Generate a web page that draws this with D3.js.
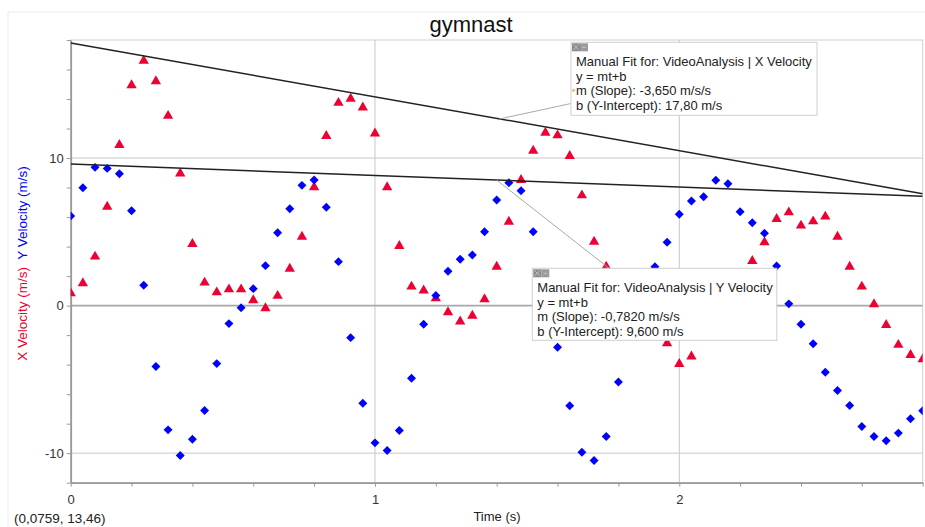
<!DOCTYPE html>
<html>
<head>
<meta charset="utf-8">
<script src="https://d3js.org/d3.v7.min.js"></script>
<style>
    body { margin: 0; background: #fff; }
    text { font-family: "Liberation Sans", Arial, sans-serif; }
</style>
</head>
<body>
<script type="text/javascript">
    // sample times (s) and the two velocity series
    const time = [0, 0.04, 0.08, 0.12, 0.16, 0.2, 0.24, 0.28, 0.32, 0.36,
        0.4, 0.44, 0.48, 0.52, 0.56, 0.6, 0.64, 0.68, 0.72, 0.76,
        0.8, 0.84, 0.88, 0.92, 0.96, 1.0, 1.04, 1.08, 1.12, 1.16,
        1.2, 1.24, 1.28, 1.32, 1.36, 1.4, 1.44, 1.48, 1.52, 1.56,
        1.6, 1.64, 1.68, 1.72, 1.76, 1.8, 1.84, 1.88, 1.92, 1.96,
        2.0, 2.04, 2.08, 2.12, 2.16, 2.2, 2.24, 2.28, 2.32, 2.36,
        2.4, 2.44, 2.48, 2.52, 2.56, 2.6, 2.64, 2.68, 2.72, 2.76, 2.8];

    const xVelocity = [0.84, 1.52, 3.32, 6.7, 10.88, 14.94, 16.6, 15.2, 12.86, 8.96,
        4.18, 1.56, 0.9, 1.1, 1.1, 0.36, -0.18, 0.66, 2.5, 4.67,
        8.02, 11.49, 13.74, 14.02, 13.43, 11.67, 8.02, 4.04, 1.29, 1.02,
        0.5, -0.45, -1.08, -0.68, 0.43, 2.64, 5.69, 8.51, 10.49, 11.71,
        11.54, 10.14, 7.47, 4.33, 2.64, 1.4, 0.1, -1.0, -1.9, -2.55,
        -3.95, -3.45, -2.0, -0.7, 0.7, 1.9, 3.03, 4.29, 5.87, 6.32,
        5.42, 5.71, 6.03, 4.67, 2.64, 1.29, 0.09, -1.31, -2.66, -3.34, -3.63];

    const yVelocity = [6.07, 7.99, 9.37, 9.3, 8.94, 6.43, 1.38, -4.13, -8.42, -10.16,
        -9.05, -7.11, -3.93, -1.22, -0.14, 1.15, 2.71, 4.94, 6.57, 8.15,
        8.51, 6.66, 2.98, -2.17, -6.61, -9.3, -9.82, -8.46, -4.92, -1.26,
        0.68, 2.33, 3.14, 3.43, 5.01, 7.16, 8.33, 7.79, 5.01, 1.3,
        -2.82, -6.79, -9.93, -10.49, -8.87, -5.17, -1.8, 0.6, 2.64, 4.29,
        6.19, 7.09, 7.38, 8.49, 8.26, 6.36, 5.62, 4.9, 2.69, 0.12,
        -1.26, -2.59, -4.51, -5.75, -6.77, -8.19, -8.87, -9.16, -8.64, -7.67, -7.13];

    // manual fits: [slope, intercept]
    const xFit = [-3.650, 17.80];
    const yFit = [-0.7820, 9.600];

    const xMajor = [0, 1, 2];
    const yMajor = [-10, 0, 10];
    const xMinor = [0, 0.2, 0.4, 0.6, 0.8, 1, 1.2, 1.4, 1.6, 1.8, 2, 2.2, 2.4, 2.6, 2.8];
    const yMinor = [-12, -10, -8, -6, -4, -2, 0, 2, 4, 6, 8, 10, 12, 14, 16, 18];

    const xFitText = ["Manual Fit for: VideoAnalysis | X Velocity", "y = mt+b",
        "m (Slope): -3,650 m/s/s", "b (Y-Intercept): 17,80 m/s"];
    const yFitText = ["Manual Fit for: VideoAnalysis | Y Velocity", "y = mt+b",
        "m (Slope): -0,7820 m/s/s", "b (Y-Intercept): 9,600 m/s"];

    const red = "#ee0033";
    const blue = "#0000ff";

    let W = 925, H = 527;
    let pLeft = 70.7, pRight = 922.7, pTop = 40, pBottom = 482.7;

    let svg = d3.select("body").append("svg").attr("width", W).attr("height", H);

    let x = d3.scaleLinear().domain([0, 2.8]).range([pLeft, pRight]);
    let y = d3.scaleLinear().domain([-12, 18]).range([pBottom, pTop]);

    // outer frame of the graph window
    svg.append("rect").attr("x", 8).attr("y", 12).attr("width", 940).attr("height", 540)
        .attr("fill", "none").attr("stroke", "#ececec");

    svg.append("defs").append("clipPath").attr("id", "plotclip")
        .append("rect").attr("x", pLeft).attr("y", pTop)
        .attr("width", pRight - pLeft).attr("height", pBottom - pTop);

    // plot border
    svg.append("rect").attr("x", pLeft).attr("y", pTop)
        .attr("width", pRight - pLeft).attr("height", pBottom - pTop)
        .attr("fill", "none").attr("stroke", "#d0d0d0");

    // grid lines at the major ticks
    svg.selectAll(".vgrid").data(xMajor.filter(d => d > 0)).enter().append("line")
        .attr("x1", d => x(d)).attr("x2", d => x(d))
        .attr("y1", pTop).attr("y2", pBottom)
        .attr("stroke", "#c8c8c8");
    svg.selectAll(".hgrid").data(yMajor).enter().append("line")
        .attr("x1", pLeft).attr("x2", pRight)
        .attr("y1", d => y(d)).attr("y2", d => y(d))
        .attr("stroke", d => d === 0 ? "#a8a8a8" : "#c8c8c8")
        .attr("stroke-width", d => d === 0 ? 1.8 : 1);

    // axes
    let yAxis = svg.append("g").attr("transform", `translate(${pLeft},0)`)
        .call(d3.axisLeft(y).tickValues(yMinor).tickSize(4).tickSizeOuter(0).tickPadding(3)
            .tickFormat(d => yMajor.includes(d) ? d : ""));
    let xAxis = svg.append("g").attr("transform", `translate(0,${pBottom})`)
        .call(d3.axisBottom(x).tickValues(xMinor).tickSize(4).tickSizeOuter(0).tickPadding(8)
            .tickFormat(d => xMajor.includes(d) ? d : ""));
    [xAxis, yAxis].forEach(a => {
        a.select(".domain").attr("stroke", "#9a9a9a").attr("stroke-width", 1.8);
        a.selectAll(".tick line").attr("stroke", "#9a9a9a");
        a.selectAll(".tick text").attr("fill", "#333").style("font-size", "13px")
            .style("font-family", "'Liberation Sans', Arial, sans-serif");
    });

    // data points
    let pts = svg.append("g").attr("clip-path", "url(#plotclip)");
    pts.selectAll(".xv").data(time).enter().append("path")
        .attr("d", d3.symbol().type(d3.symbolTriangle).size(46))
        .attr("transform", (d, i) => `translate(${x(d)},${y(xVelocity[i])})`)
        .attr("fill", red);
    pts.selectAll(".yv").data(time).enter().append("path")
        .attr("d", d3.symbol().type(d3.symbolSquare).size(40))
        .attr("transform", (d, i) => `translate(${x(d)},${y(yVelocity[i])}) rotate(45)`)
        .attr("fill", blue);

    // fit lines
    [xFit, yFit].forEach(f => {
        pts.append("line")
            .attr("x1", x(0)).attr("y1", y(f[1]))
            .attr("x2", x(2.8)).attr("y2", y(f[0] * 2.8 + f[1]))
            .attr("stroke", "#222").attr("stroke-width", 1.5);
    });

    // annotation boxes
    function fitBox(lines, bx, by, bw, bh, anchorT, fit, tx, ty) {
        svg.append("line")
            .attr("x1", x(anchorT)).attr("y1", y(fit[0] * anchorT + fit[1]))
            .attr("x2", tx).attr("y2", ty)
            .attr("stroke", "#aaa");
        let g = svg.append("g").attr("transform", `translate(${bx},${by})`);
        g.append("rect").attr("width", bw).attr("height", bh)
            .attr("fill", "#fff").attr("stroke", "#cfcfcf");
        g.append("rect").attr("x", 1).attr("y", 1).attr("width", 8).attr("height", 8).attr("fill", "#8c8c8c");
        g.append("rect").attr("x", 9).attr("y", 1).attr("width", 8).attr("height", 8).attr("fill", "#9a9a9a");
        g.append("path").attr("d", "M2.5,2.5L7.5,7.5M7.5,2.5L2.5,7.5M11,5H15")
            .attr("stroke", "#c4c4c4").attr("stroke-width", 1);
        g.selectAll("text").data(lines).enter().append("text")
            .attr("x", 5).attr("y", (d, i) => 24 + i * 14.5)
            .attr("fill", "#222").style("font-size", "13px")
            .text(d => d);
        return g;
    }

    let boxX = fitBox(xFitText, 571, 42.3, 246, 73, 1.41, xFit, 571, 103.5);
    boxX.append("circle").attr("cx", 2.6).attr("cy", 48).attr("r", 1.6).attr("fill", "#f2c46a");
    fitBox(yFitText, 532.3, 268.3, 244.5, 72, 1.40, yFit, 609, 268.3);

    // titles
    svg.append("text").attr("x", 471).attr("y", 32).attr("text-anchor", "middle")
        .style("font-size", "22px").attr("fill", "#111").text("gymnast");

    svg.append("text").attr("x", 497).attr("y", 521).attr("text-anchor", "middle")
        .style("font-size", "13px").attr("fill", "#222").text("Time (s)");

    let yl = svg.append("text").attr("transform", "translate(27,263.5) rotate(-90)")
        .attr("text-anchor", "middle").style("font-size", "13.5px");
    yl.append("tspan").attr("fill", red).text("X Velocity (m/s)");
    yl.append("tspan").attr("fill", blue).text("  Y Velocity (m/s)").attr("xml:space", "preserve");

    svg.append("text").attr("x", 14).attr("y", 523)
        .style("font-size", "13.5px").attr("fill", "#222").text("(0,0759, 13,46)");
</script>
</body>
</html>
